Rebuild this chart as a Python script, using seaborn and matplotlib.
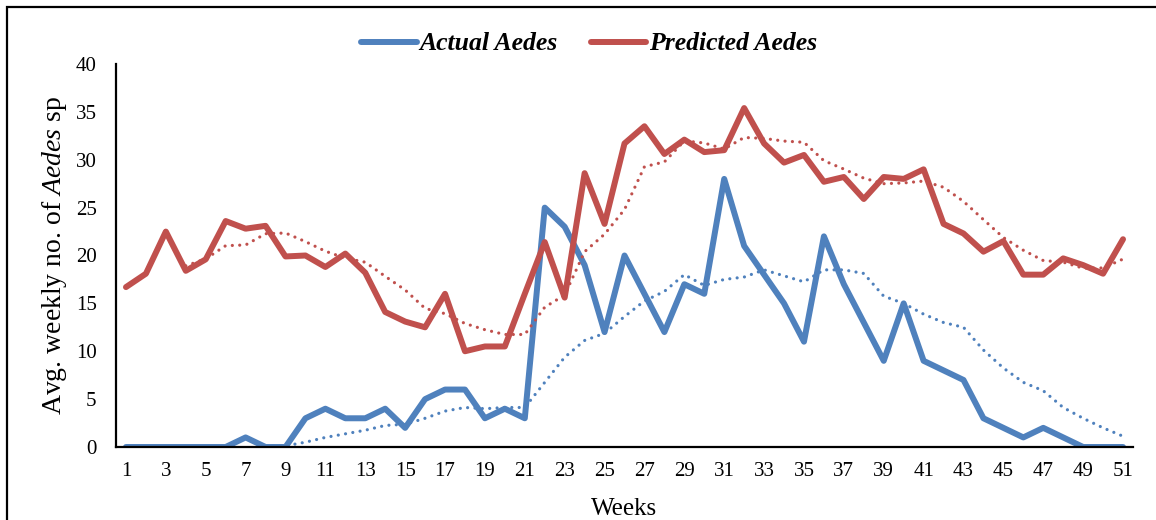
import matplotlib
matplotlib.use("Agg")
import matplotlib.pyplot as plt
from matplotlib.lines import Line2D
from matplotlib.patches import Rectangle
import seaborn as sns
import pandas as pd

# Weekly counts of Aedes mosquitoes: field observations and model predictions
weeks = list(range(1, 52))
actual_aedes = [0, 0, 0, 0, 0, 0, 1, 0, 0, 3,
                4, 3, 3, 4, 2, 5, 6, 6, 3, 4,
                3, 25, 23, 19, 12, 20, 16, 12, 17, 16,
                28, 21, 18, 15, 11, 22, 17, 13, 9, 15,
                9, 8, 7, 3, 2, 1, 2, 1, 0, 0, 0]
predicted_aedes = [16.7, 18.1, 22.5, 18.4, 19.6, 23.6, 22.8, 23.1, 19.9, 20.0,
                   18.8, 20.2, 18.2, 14.1, 13.1, 12.5, 16.0, 10.0, 10.5, 10.5,
                   16.0, 21.4, 15.6, 28.6, 23.3, 31.7, 33.5, 30.6, 32.1, 30.8,
                   31.0, 35.4, 31.7, 29.7, 30.5, 27.7, 28.2, 25.9, 28.2, 28.0,
                   29.0, 23.3, 22.3, 20.4, 21.5, 18.0, 18.0, 19.7, 19.0, 18.1, 21.7]
x_ticks = list(range(1, 52, 2))
y_ticks = list(range(0, 41, 5))

# Moving-average trendline periods
actual_ma_period = 8
predicted_ma_period = 4

BLUE = "#4F81BD"
RED = "#C0504D"

df = pd.DataFrame({"Week": weeks, "Actual": actual_aedes, "Predicted": predicted_aedes})
df["Actual_MA"] = df["Actual"].rolling(actual_ma_period).mean()
df["Predicted_MA"] = df["Predicted"].rolling(predicted_ma_period).mean()

sns.set_theme(style="white")
plt.rcParams["font.family"] = ["Liberation Serif", "DejaVu Serif"]
plt.rcParams["text.color"] = "black"
plt.rcParams["mathtext.fontset"] = "custom"
plt.rcParams["mathtext.rm"] = "Liberation Serif"
plt.rcParams["mathtext.it"] = "Liberation Serif:italic"

fig = plt.figure(figsize=(11.56, 5.2), dpi=100)
ax = fig.add_axes([116 / 1156, 73 / 520, (1133 - 116) / 1156, (447 - 64) / 520])

solid_kw = dict(linewidth=4.3, solid_capstyle="round", solid_joinstyle="round")
dot_kw = dict(linewidth=2.3, linestyle=(0, (0.01, 2.3)), dash_capstyle="round")

sns.lineplot(data=df, x="Week", y="Actual", color=BLUE, ax=ax, **solid_kw)
sns.lineplot(data=df, x="Week", y="Predicted", color=RED, ax=ax, **solid_kw)
sns.lineplot(data=df.dropna(subset=["Actual_MA"]), x="Week", y="Actual_MA",
             color=BLUE, ax=ax, **dot_kw)
sns.lineplot(data=df.dropna(subset=["Predicted_MA"]), x="Week", y="Predicted_MA",
             color=RED, ax=ax, **dot_kw)

ax.set_xlim(0.5, 51.5)
ax.set_ylim(0, 40)
ax.set_xticks(x_ticks)
ax.set_xticklabels([str(w) for w in x_ticks])
ax.set_yticks(y_ticks)
ax.set_yticklabels([str(v) for v in y_ticks])
ax.tick_params(axis="both", length=0, labelsize=15, colors="black")
ax.tick_params(axis="y", pad=14)
ax.tick_params(axis="x", pad=11)

for side in ("top", "right"):
    ax.spines[side].set_visible(False)
for side in ("left", "bottom"):
    ax.spines[side].set_color("black")
    ax.spines[side].set_linewidth(1.6)

ax.set_xlabel("Weeks", fontsize=18, color="black", labelpad=12)
ax.set_ylabel("Avg. weekly no. of $\\mathit{Aedes}$ sp", fontsize=20, color="black", labelpad=5)

handles = [Line2D([], [], color=BLUE, linewidth=4.3, solid_capstyle="round"),
           Line2D([], [], color=RED, linewidth=4.3, solid_capstyle="round")]
fig.legend(handles, ["Actual Aedes", "Predicted Aedes"], loc="center",
           bbox_to_anchor=(589 / 1156, 1 - 44 / 520), ncol=2, frameon=False,
           handlelength=2.15, handletextpad=0.1, columnspacing=1.3, labelcolor="black",
           prop={"family": "Liberation Serif", "weight": "bold", "style": "italic", "size": 18.5})

# Outer chart border
fig.patches.append(Rectangle((7 / 1156, -0.1), 1.2, 1.1 - 7 / 520,
                             transform=fig.transFigure, fill=False,
                             edgecolor="black", linewidth=1.6, clip_on=False))

fig.savefig("out.png", dpi=100)
